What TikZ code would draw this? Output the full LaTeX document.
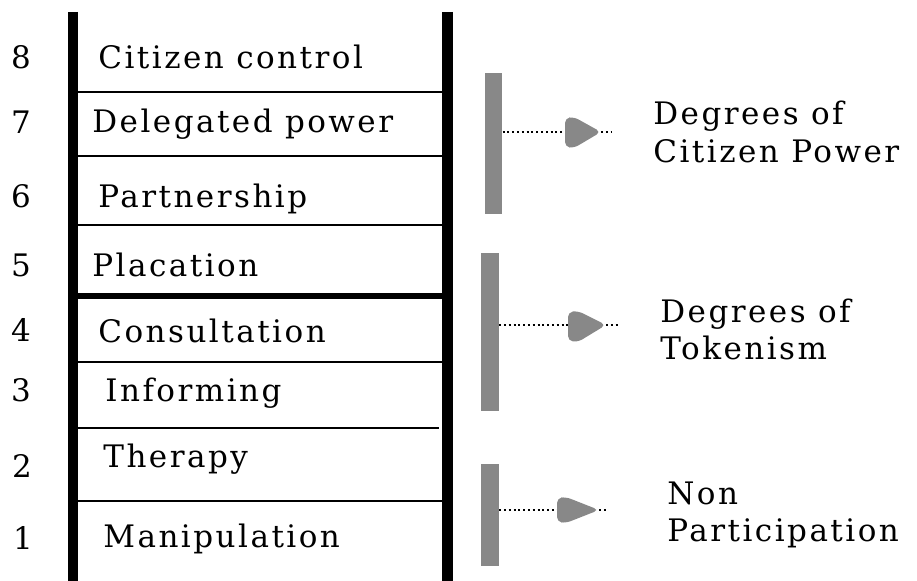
\documentclass[tikz,border=0pt]{standalone}
\usepackage{fontspec}
\setmainfont{DejaVu Serif}[LetterSpace=8]
\definecolor{bargray}{RGB}{136,136,136}
\begin{document}
\begin{tikzpicture}[x=0.5pt,y=-0.5pt,
  rail/.style={line width=5.2pt},
  rung/.style={line width=1.4pt},
  lbl/.style={anchor=base west,inner sep=0pt,font=\fontsize{15.5}{18}\selectfont},
  num/.style={anchor=base,inner sep=0pt,font=\fontsize{15.5}{18}\selectfont},
  gbar/.style={rectangle,fill=bargray,inner sep=0pt,minimum width=8.7pt},
  dotline/.style={line width=1.1pt,dash pattern=on 1pt off 1.4pt},
  head/.style={fill=bargray,rounded corners=2.5pt}]
\useasboundingbox[fill=white] (0,0) rectangle (917,581);
% rails
\draw[rail] (73,12) coordinate (lt) -- (73,581) coordinate (lb);
\draw[rail] (447.5,12) coordinate (rt) -- (447.5,581) coordinate (rb);
% rungs
\draw[rung] (75,92) -- (445,92);
\draw[rung] (75,156) -- (445,156);
\draw[rung] (75,225) -- (445,225);
\draw[line width=2.6pt] (75,296) -- (445,296);
\draw[rung] (75,362) -- (445,362);
\draw[rung] (75,428) -- (439,428);
\draw[rung] (75,501) -- (445,501);
% numbers
\node[num] (n8) at (21,69) {8};
\node[num] (n7) at (21,134) {7};
\node[num] (n6) at (21,208) {6};
\node[num] (n5) at (21,277) {5};
\node[num] (n4) at (21,342) {4};
\node[num] (n3) at (21,402) {3};
\node[num] (n2) at (22,478) {2};
\node[num] (n1) at (23,550) {1};
% rung labels
\node[lbl] (l8) at (98,69) {Citizen control};
\node[lbl] (l7) at (92,133) {Delegated power};
\node[lbl] (l6) at (98,208) {Partnership};
\node[lbl] (l5) at (92,277) {Placation};
\node[lbl] (l4) at (98,343) {Consultation};
\node[lbl] (l3) at (105,402) {Informing};
\node[lbl] (l2) at (103,468) {Therapy};
\node[lbl] (l1) at (103,548) {Manipulation};
% gray brackets
\node[gbar,minimum height=70.5pt] (b1) at (493.5,143.5) {};
\node[gbar,minimum height=79pt] (b2) at (490,332) {};
\node[gbar,minimum height=51pt] (b3) at (490,515) {};
% arrows
\coordinate (h1) at (565,132); \coordinate (t1) at (601,132); \coordinate (e1) at (611,132);
\coordinate (h2) at (568,325); \coordinate (t2) at (606,325); \coordinate (e2) at (618,325);
\coordinate (h3) at (557,510); \coordinate (t3) at (599,510); \coordinate (e3) at (608,510);
\draw[dotline] (b1.east |- h1) -- (h1);
\draw[dotline] (t1) -- (e1);
\fill[head] (565,118) -- (574,117) -- (t1) -- (574,148) -- (565,147) -- cycle;
\draw[dotline] (b2.east |- h2) -- (h2);
\draw[dotline] (t2) -- (e2);
\fill[head] (568,312) -- (578,311) -- (t2) -- (578,342) -- (568,341) -- cycle;
\draw[dotline] (b3.east |- h3) -- (h3);
\draw[dotline] (t3) -- (e3);
\fill[head] (557,498) -- (566,497) -- (t3) -- (566,523) -- (557,522) -- cycle;
% group labels
\node[lbl] (g1a) at (653,125) {Degrees of};
\node[lbl] (g1b) at (653,163) {Citizen Power};
\node[lbl] (g2a) at (660,323) {Degrees of};
\node[lbl] (g2b) at (660,360) {Tokenism};
\node[lbl] (g3a) at (667,505) {Non};
\node[lbl] (g3b) at (667,542) {Participation};
\end{tikzpicture}
\end{document}
